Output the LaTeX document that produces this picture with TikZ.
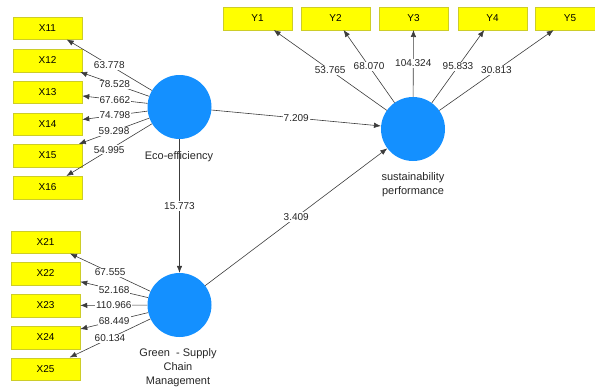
\documentclass[tikz,border=0pt]{standalone}
\usepackage{fontspec}
\setmainfont{Liberation Sans}
\usetikzlibrary{arrows.meta}
\definecolor{lvblue}{RGB}{20,144,255}
\definecolor{boxyellow}{RGB}{255,255,0}
\definecolor{boxedge}{RGB}{205,205,40}
\definecolor{linegray}{RGB}{60,60,60}
\begin{document}
\begin{tikzpicture}[x=1pt,y=-1pt,
 ind/.style={rectangle, fill=boxyellow, draw=boxedge, line width=0.5pt, minimum width=69pt, minimum height=22.5pt, inner sep=0pt, font=\fontsize{10}{12}\selectfont, text=black},
 lv/.style={circle, fill=lvblue, minimum size=64pt, inner sep=0pt},
 lvlabel/.style={align=center, font=\fontsize{11}{14}\selectfont, text=black!85},
 conn/.style={draw=linegray, line width=0.6pt, -{Latex[length=7pt,width=5.5pt]}},
 val/.style={fill=white, inner sep=1pt, font=\fontsize{10}{12}\selectfont, text=black!85}]
\useasboundingbox (0,0) rectangle (595,391);
\clip (0,0) rectangle (595,391);
% latent variables
\node[lv] (eco) at (179.5,107) {};
\node[lv] (sus) at (413,129) {};
\node[lv] (gscm) at (179.5,305) {};
\node[lvlabel] (ecol) at (179,157) {Eco-efficiency};
\node[lvlabel] (susl) at (413,185) {sustainability\\performance};
\node[lvlabel] (gscml) at (178,368) {Green\ \ - Supply\\Chain\\Management};
% indicators
\node[ind] (x11) at (47.5,28) {X11};
\node[ind] (x12) at (47.5,60.5) {X12};
\node[ind] (x13) at (47.5,92) {X13};
\node[ind] (x14) at (47.5,124) {X14};
\node[ind] (x15) at (47.5,155.5) {X15};
\node[ind] (x16) at (47.5,187.5) {X16};
\node[ind] (x21) at (45.5,242) {X21};
\node[ind] (x22) at (45.5,273.5) {X22};
\node[ind] (x23) at (45.5,305.5) {X23};
\node[ind] (x24) at (45.5,337.5) {X24};
\node[ind] (x25) at (45.5,369) {X25};
\node[ind] (y1) at (257.5,18.5) {Y1};
\node[ind] (y2) at (335.5,18.5) {Y2};
\node[ind] (y3) at (413.5,18.5) {Y3};
\node[ind] (y4) at (492.5,18.5) {Y4};
\node[ind] (y5) at (570,18.5) {Y5};
% outer loadings
\draw[conn] (eco) -- node[val] {63.778} (x11);
\draw[conn] (eco) -- node[val] {78.528} (x12);
\draw[conn] (eco) -- node[val] {67.662} (x13);
\draw[conn] (eco) -- node[val] {74.798} (x14);
\draw[conn] (eco) -- node[val] {59.298} (x15);
\draw[conn] (eco) -- node[val] {54.995} (x16);
\draw[conn] (gscm) -- node[val] {67.555} (x21);
\draw[conn] (gscm) -- node[val] {52.168} (x22);
\draw[conn] (gscm) -- node[val] {110.966} (x23);
\draw[conn] (gscm) -- node[val] {68.449} (x24);
\draw[conn] (gscm) -- node[val] {60.134} (x25);
\draw[conn] (sus) -- node[val] {53.765} (y1);
\draw[conn] (sus) -- node[val] {68.070} (y2);
\draw[conn] (sus) -- node[val] {104.324} (y3);
\draw[conn] (sus) -- node[val] {95.833} (y4);
\draw[conn] (sus) -- node[val] {30.813} (y5);
% paths
\draw[conn] (eco) -- node[val] {7.209} (sus);
\draw[conn] (eco) -- node[val] {15.773} (gscm);
\draw[conn] (gscm) -- node[val] {3.409} (sus);
\end{tikzpicture}
\end{document}
